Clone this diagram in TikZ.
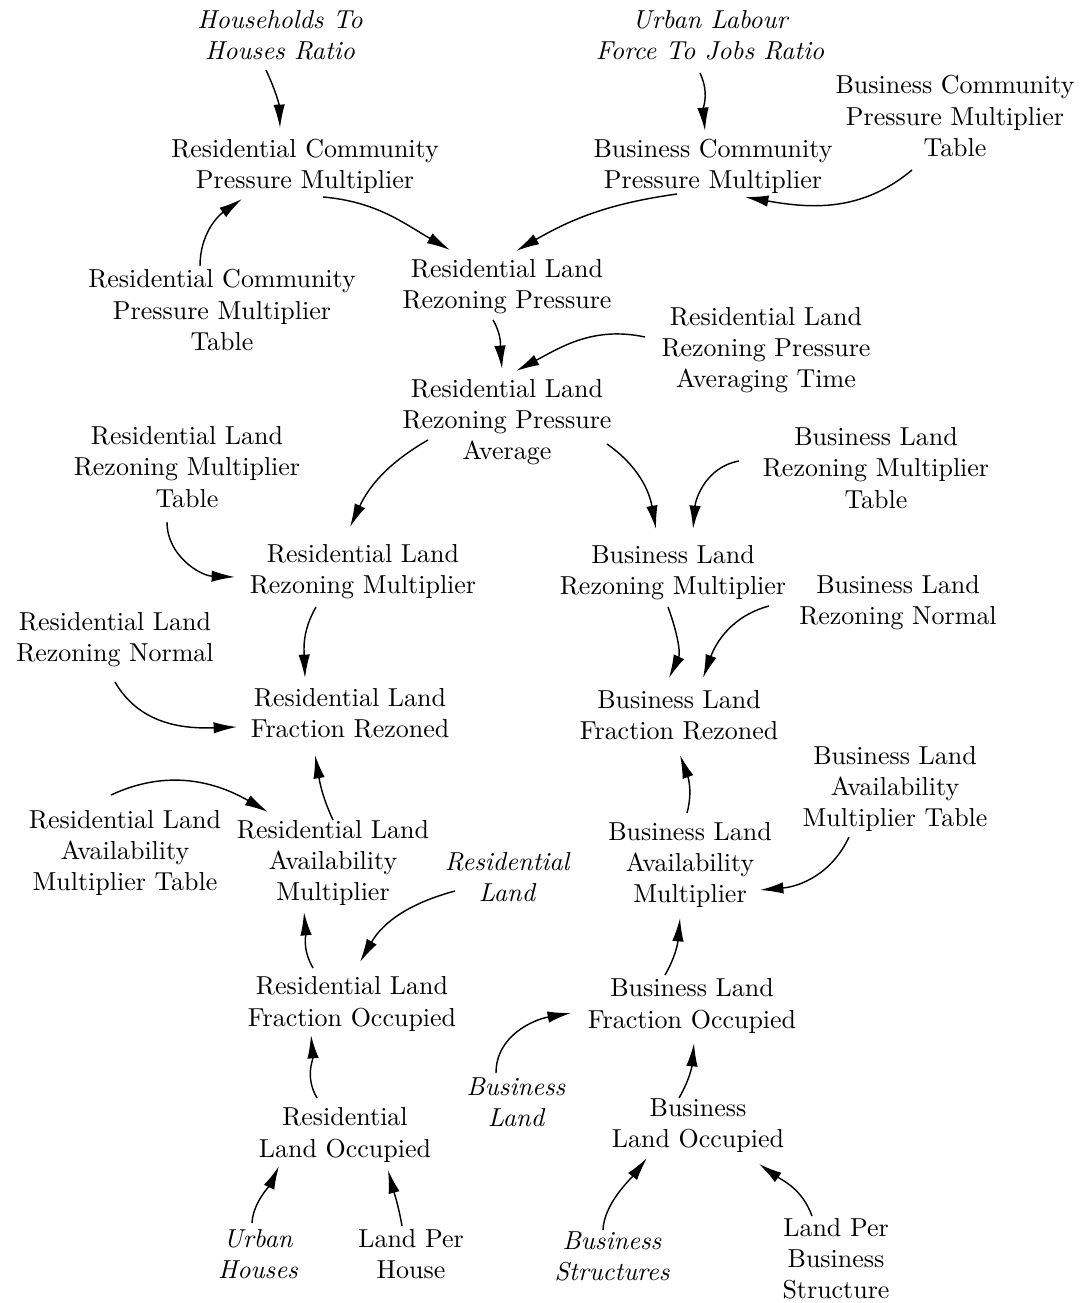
\documentclass[tikz,border=0pt]{standalone}
\usepackage{tikz}
\usetikzlibrary{arrows.meta,calc}

\begin{document}
\begin{tikzpicture}[x=0.385pt, y=0.385pt,
    var/.style={align=center, inner sep=0pt},
    ext/.style={var, font=\itshape},
    link/.style={-{Latex[length=9pt,width=4.4pt]}, line width=0.55pt}]
  \useasboundingbox (0,0) rectangle (1086,-1303);

  % top row
  \node[ext] (hhr)   at (280,-35)  {Households To\\Houses Ratio};
  \node[ext] (ulfjr) at (710,-35)  {Urban Labour\\Force To Jobs Ratio};
  \node[var] (bcpmt) at (955,-116) {Business Community\\Pressure Multiplier\\Table};
  \node[var] (rcpm)  at (305,-166) {Residential Community\\Pressure Multiplier};
  \node[var] (bcpm)  at (713,-166) {Business Community\\Pressure Multiplier};
  \node[var] (rcpmt) at (222,-310) {Residential Community\\Pressure Multiplier\\Table};
  \node[var] (rlrp)  at (507,-287) {Residential Land\\Rezoning Pressure};
  \node[var] (rlrpat) at (766,-350) {Residential Land\\Rezoning Pressure\\Averaging Time};
  \node[var] (rlrpa) at (507,-422) {Residential Land\\Rezoning Pressure\\Average};

  % rezoning
  \node[var] (rlrmt) at (187,-467) {Residential Land\\Rezoning Multiplier\\Table};
  \node[var] (blrmt) at (876,-468) {Business Land\\Rezoning Multiplier\\Table};
  \node[var] (rlrm)  at (363,-572) {Residential Land\\Rezoning Multiplier};
  \node[var] (blrm)  at (673,-573) {Business Land\\Rezoning Multiplier};
  \node[var] (blrn)  at (898,-603) {Business Land\\Rezoning Normal};
  \node[var] (rlrn)  at (115,-640) {Residential Land\\Rezoning Normal};
  \node[var] (rlfr)  at (350,-713) {Residential Land\\Fraction Rezoned};
  \node[var] (blfr)  at (679,-715) {Business Land\\Fraction Rezoned};

  % availability
  \node[var] (blamt) at (895,-789) {Business Land\\Availability\\Multiplier Table};
  \node[var] (rlamt) at (125,-853) {Residential Land\\Availability\\Multiplier Table};
  \node[var] (rlam)  at (333,-863) {Residential Land\\Availability\\Multiplier};
  \node[ext] (rl)    at (507,-877) {Residential\\Land};
  \node[var] (blam)  at (690,-865) {Business Land\\Availability\\Multiplier};

  % occupation
  \node[var] (rlfo)  at (352,-1004) {Residential Land\\Fraction Occupied};
  \node[var] (blfo)  at (692,-1006) {Business Land\\Fraction Occupied};
  \node[ext] (bl)    at (516,-1102) {Business\\Land};
  \node[var] (rlo)   at (345,-1135) {Residential\\Land Occupied};
  \node[var] (blo)   at (698,-1126) {Business\\Land Occupied};
  \node[ext] (uh)    at (258,-1254) {Urban\\Houses};
  \node[var] (lph)   at (411,-1254) {Land Per\\House};
  \node[ext] (bs)    at (612,-1256) {Business\\Structures};
  \node[var] (lpbs)  at (836,-1259) {Land Per\\Business\\Structure};

  % links
  \draw[link] ($(hhr)+(-14,-35)$) to[out=-65,in=92] ($(rcpm)+(-25,38)$);
  \draw[link] ($(rcpmt)+(-22,44)$) to[out=90,in=-145] ($(rcpm)+(-63,-33)$);
  \draw[link] ($(rcpm)+(18,-31)$) to[out=-5,in=150] ($(rlrp)+(-57,37)$);
  \draw[link] ($(bcpm)+(-36,-28)$) to[out=188,in=30] ($(rlrp)+(9,36)$);
  \draw[link] ($(ulfjr)+(-10,-38)$) to[out=-65,in=95] ($(bcpm)+(-8,35)$);
  \draw[link] ($(bcpmt)+(-43,-54)$) to[out=-140,in=-10] ($(bcpm)+(32,-31)$);
  \draw[link] ($(rlrp)+(-14,-33)$) to[out=-60,in=95] ($(rlrpa)+(-5,53)$);
  \draw[link] ($(rlrpat)+(-121,13)$) to[out=168,in=28] ($(rlrpa)+(9,51)$);
  \draw[link] ($(rlrpa)+(-79,-18)$) to[out=-150,in=65] ($(rlrm)+(-13,45)$);
  \draw[link] ($(rlrpa)+(100,-22)$) to[out=-35,in=100] ($(blrm)+(-17,44)$);
  \draw[link] ($(blrmt)+(-137,7)$) to[out=190,in=85] ($(blrm)+(20,44)$);
  \draw[link] ($(rlrmt)+(-20,-55)$) to[out=-90,in=178] ($(rlrm)+(-128,-5)$);
  \draw[link] ($(rlrm)+(-47,-35)$) to[out=-120,in=92] ($(rlfr)+(-45,35)$);
  \draw[link] ($(rlrn)+(0,-42)$) to[out=-60,in=182] ($(rlfr)+(-113,-14)$);
  \draw[link] ($(blrm)+(-5,-34)$) to[out=-70,in=65] ($(blfr)+(-10,37)$);
  \draw[link] ($(blrn)+(-129,-3)$) to[out=195,in=70] ($(blfr)+(24,37)$);
  \draw[link] ($(blam)+(-3,52)$) to[out=75,in=-70] ($(blfr)+(1,-40)$);
  \draw[link] ($(blamt)+(-46,-48)$) to[out=-115,in=5] ($(blam)+(70,-25)$);
  \draw[link] ($(rlamt)+(-14,58)$) to[out=25,in=150] ($(rlam)+(-65,51)$);
  \draw[link] ($(rlam)+(0,43)$) to[out=115,in=-80] ($(rlfr)+(-35,-42)$);
  \draw[link] ($(rlfo)+(-39,36)$) to[out=120,in=-85] ($(rlam)+(-29,-49)$);
  \draw[link] ($(rl)+(-52,-14)$) to[out=195,in=60] ($(rlfo)+(8,42)$);
  \draw[link] ($(rlo)+(-28,37)$) to[out=120,in=-85] ($(rlfo)+(-41,-31)$);
  \draw[link] ($(uh)+(-6,31)$) to[out=88,in=-115,looseness=0.8] ($(rlo)+(-66,-31)$);
  \draw[link] ($(lph)+(-9,28)$) to[out=100,in=-75] ($(rlo)+(43,-35)$);
  \draw[link] ($(blfo)+(-27,31)$) to[out=60,in=-95] ($(blam)+(-10,-53)$);
  \draw[link] ($(bl)+(-20,29)$) to[out=90,in=190] ($(blfo)+(-121,-7)$);
  \draw[link] ($(blo)+(-19,28)$) to[out=60,in=-95] ($(blfo)+(2,-37)$);
  \draw[link] ($(bs)+(-9,26)$) to[out=88,in=-128,looseness=0.8] ($(blo)+(-51,-32)$);
  \draw[link] ($(lpbs)+(-24,43)$) to[out=110,in=-35] ($(blo)+(61,-38)$);
\end{tikzpicture}
\end{document}
